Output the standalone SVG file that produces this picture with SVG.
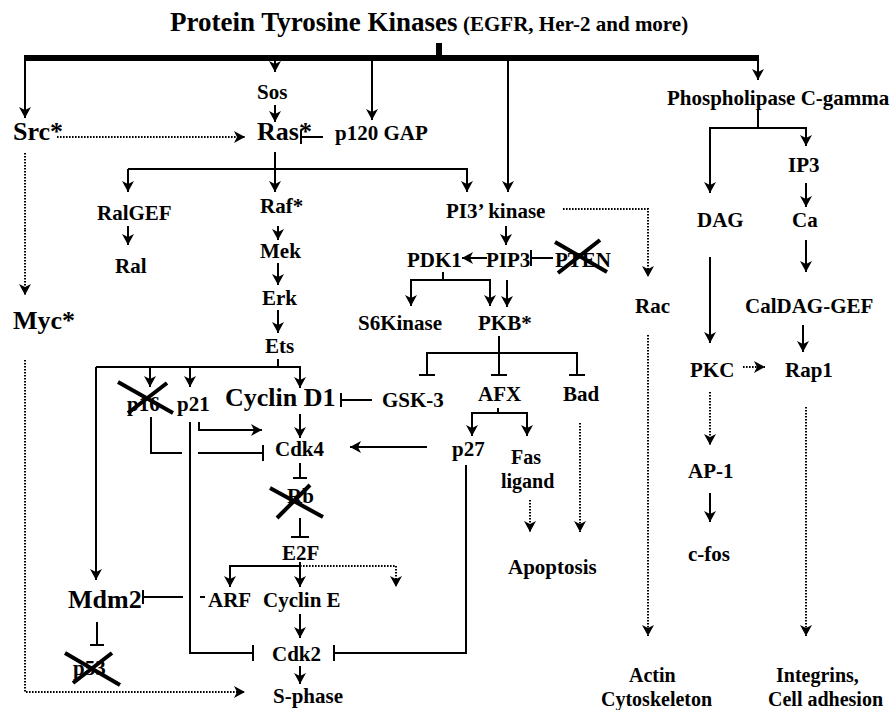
<svg xmlns="http://www.w3.org/2000/svg" width="893" height="710" viewBox="0 0 893 710">
<defs>
<marker id="ah" markerUnits="userSpaceOnUse" markerWidth="13" markerHeight="13" refX="11" refY="6.5" orient="auto">
<path d="M0,0.5 L11,6.5 L0,12.5 L3,6.5 Z" fill="#000" stroke="none"/>
</marker>
<style>
text{font-family:"Liberation Serif","Times New Roman",serif;font-weight:bold;fill:#000;font-size:21px}
.big{font-size:26px}
.title{font-size:27px}
.two{font-size:20px}
.c{fill:none;stroke:#000;stroke-width:2}
.a{marker-end:url(#ah)}
.d{stroke-dasharray:1.6 1.4}
.x{stroke:#000;stroke-width:4;fill:none}
</style>
</defs>
<rect width="893" height="710" fill="#fff"/>
<g id="title">
<text class="title" x="170" y="31">Protein Tyrosine Kinases</text>
<text x="463" y="31">(EGFR, Her-2 and more)</text>
<rect x="436" y="43" width="6" height="15" fill="#000"/>
<line x1="24" y1="58" x2="759" y2="58" stroke="#000" stroke-width="6"/>
</g>
<g id="connectors">
<path class="c a" d="M25,58 V118"/>
<path class="c a" d="M275,60 V72"/>
<path class="c a" d="M372,60 V120"/>
<path class="c a" d="M508,60 V192"/>
<path class="c a" d="M758,60 V80"/>
<path class="c a" d="M275,105 V122"/>
<path class="c" d="M323,137 H301 M301,130 V144"/>
<path class="c a d" d="M57,137 H245"/>
<path class="c d" d="M25,153 V230"/>
<path class="c a d" d="M25,230 V295"/>
<path class="c a" d="M275,152 V192"/>
<path class="c a" d="M128,169 H467 V192"/>
<path class="c a" d="M128,169 V192"/>
<path class="c a" d="M128,226 V245"/>
<path class="c a" d="M278,226 V240"/>
<path class="c a" d="M278,263 V285"/>
<path class="c a" d="M278,310 V333"/>
<path class="c" d="M278,359 V367"/>
<path class="c a" d="M96,367 H300 V388"/>
<path class="c a" d="M96,367 V580"/>
<path class="c a" d="M150,367 V387"/>
<path class="c a" d="M190,367 V387"/>
<path class="c a" d="M300,414 V438"/>
<path class="c a" d="M199,422 V430 H262"/>
<path class="c" d="M151,417 V453 H182 M198,453 H262 M263,445 V461"/>
<path class="c" d="M372,400 H341 M341,393 V407"/>
<path class="c a" d="M427,447 H350"/>
<path class="c" d="M300,463 V478 M293,478 H307"/>
<path class="c" d="M300,518 V537 M291,537 H309"/>
<path class="c" d="M300,562 V566"/>
<path class="c a" d="M300,566 H230 V587"/>
<path class="c a" d="M300,566 V587"/>
<path class="c a d" d="M300,566 H396 V587"/>
<path class="c" d="M183,597 H143 M143,590 V604 M200,597 H205"/>
<path class="c a" d="M300,614 V638"/>
<path class="c a" d="M300,666 V684"/>
<path class="c" d="M190,422 V653 H253 M253,645 V661"/>
<path class="c" d="M466,465 V653 H334 M334,645 V661"/>
<path class="c" d="M97,622 V645 M90,645 H104"/>
<path class="c a d" d="M25,360 V692 H245"/>
<path class="c a" d="M506,226 V245"/>
<path class="c a" d="M487,258 H462"/>
<path class="c" d="M553,258 H531 M531,250 V266"/>
<path class="c" d="M443,272 V280"/>
<path class="c a" d="M443,280 H411 V306"/>
<path class="c a" d="M443,280 H490 V306"/>
<path class="c a" d="M507,280 V307"/>
<path class="c" d="M499,336 V353 M427,375 V353 H577 V375 M499,353 V375 M419,375 H435 M491,375 H507 M569,375 H585"/>
<path class="c" d="M498,408 V413"/>
<path class="c a" d="M498,413 H472 V436"/>
<path class="c a" d="M498,413 H527 V436"/>
<path class="c a d" d="M530,500 V532"/>
<path class="c a d" d="M580,423 V532"/>
<path class="c a d" d="M563,209 H648 V277"/>
<path class="c a d" d="M648,335 V636"/>
<path class="c" d="M758,110 V128"/>
<path class="c a" d="M758,128 H806 V146"/>
<path class="c a" d="M758,128 H710 V193"/>
<path class="c a" d="M806,183 V207"/>
<path class="c a" d="M806,240 V272"/>
<path class="c a" d="M803,325 V352"/>
<path class="c a" d="M710,257 V343"/>
<path class="c a d" d="M743,367 H765"/>
<path class="c a d" d="M710,392 V445"/>
<path class="c a" d="M710,493 V522"/>
<path class="c a d" d="M806,407 V636"/>
</g>
<g id="n-sos"><text x="257" y="99">Sos</text></g>
<g id="n-src"><text class="big" x="13" y="140">Src*</text></g>
<g id="n-ras"><text class="big" x="257" y="140">Ras*</text></g>
<g id="n-p120gap"><text x="335" y="140">p120 GAP</text></g>
<g id="n-plcg"><text x="667" y="105">Phospholipase C-gamma</text></g>
<g id="n-ralgef"><text x="97" y="220">RalGEF</text></g>
<g id="n-raf"><text x="260" y="213">Raf*</text></g>
<g id="n-pi3k"><text x="446" y="218">PI3’ kinase</text></g>
<g id="n-ip3"><text x="788" y="172">IP3</text></g>
<g id="n-dag"><text x="697" y="227">DAG</text></g>
<g id="n-ca"><text x="792" y="227">Ca</text></g>
<g id="n-ral"><text x="115" y="273">Ral</text></g>
<g id="n-mek"><text x="260" y="258">Mek</text></g>
<g id="n-pdk1"><text x="407" y="267">PDK1</text></g>
<g id="n-pip3"><text x="486" y="267">PIP3</text></g>
<g id="n-pten"><text x="555" y="267">PTEN</text><path class="x" d="M555,242 L607,272 M558,273 L600,240"/></g>
<g id="n-erk"><text x="262" y="305">Erk</text></g>
<g id="n-rac"><text x="635" y="313">Rac</text></g>
<g id="n-caldag"><text x="745" y="313">CalDAG-GEF</text></g>
<g id="n-myc"><text class="big" x="13" y="329">Myc*</text></g>
<g id="n-s6k"><text x="358" y="330">S6Kinase</text></g>
<g id="n-pkb"><text x="478" y="330">PKB*</text></g>
<g id="n-ets"><text x="265" y="353">Ets</text></g>
<g id="n-pkc"><text x="690" y="377">PKC</text></g>
<g id="n-rap1"><text x="785" y="377">Rap1</text></g>
<g id="n-afx"><text x="478" y="401">AFX</text></g>
<g id="n-bad"><text x="563" y="401">Bad</text></g>
<g id="n-p16"><text x="127" y="411">p16</text><path class="x" d="M118,382 L173,413 M128,413 L167,383"/></g>
<g id="n-p21"><text x="177" y="411">p21</text></g>
<g id="n-cyclind1"><text class="big" x="225" y="406">Cyclin D1</text></g>
<g id="n-gsk3"><text x="382" y="407">GSK-3</text></g>
<g id="n-cdk4"><text x="275" y="456">Cdk4</text></g>
<g id="n-p27"><text x="452" y="456">p27</text></g>
<g id="n-fasl"><text class="two" x="511" y="464">Fas</text><text class="two" x="501" y="488">ligand</text></g>
<g id="n-ap1"><text x="688" y="478">AP-1</text></g>
<g id="n-rb"><text x="287" y="503">Rb</text><path class="x" d="M270,488 L323,517 M277,518 L310,485"/></g>
<g id="n-e2f"><text x="282" y="560">E2F</text></g>
<g id="n-cfos"><text x="688" y="561">c-fos</text></g>
<g id="n-apoptosis"><text x="508" y="574">Apoptosis</text></g>
<g id="n-arf"><text x="208" y="607">ARF</text></g>
<g id="n-cycline"><text x="263" y="607">Cyclin E</text></g>
<g id="n-mdm2"><text class="big" x="68" y="608">Mdm2</text></g>
<g id="n-cdk2"><text x="272" y="661">Cdk2</text></g>
<g id="n-p53"><text x="73" y="675">p53</text><path class="x" d="M65,653 L120,685 M73,683 L112,653"/></g>
<g id="n-actin"><text class="two" x="629" y="682">Actin</text><text class="two" x="601" y="706">Cytoskeleton</text></g>
<g id="n-integrins"><text class="two" x="776" y="682">Integrins,</text><text class="two" x="768" y="706">Cell adhesion</text></g>
<g id="n-sphase"><text x="273" y="703">S-phase</text></g>
</svg>
